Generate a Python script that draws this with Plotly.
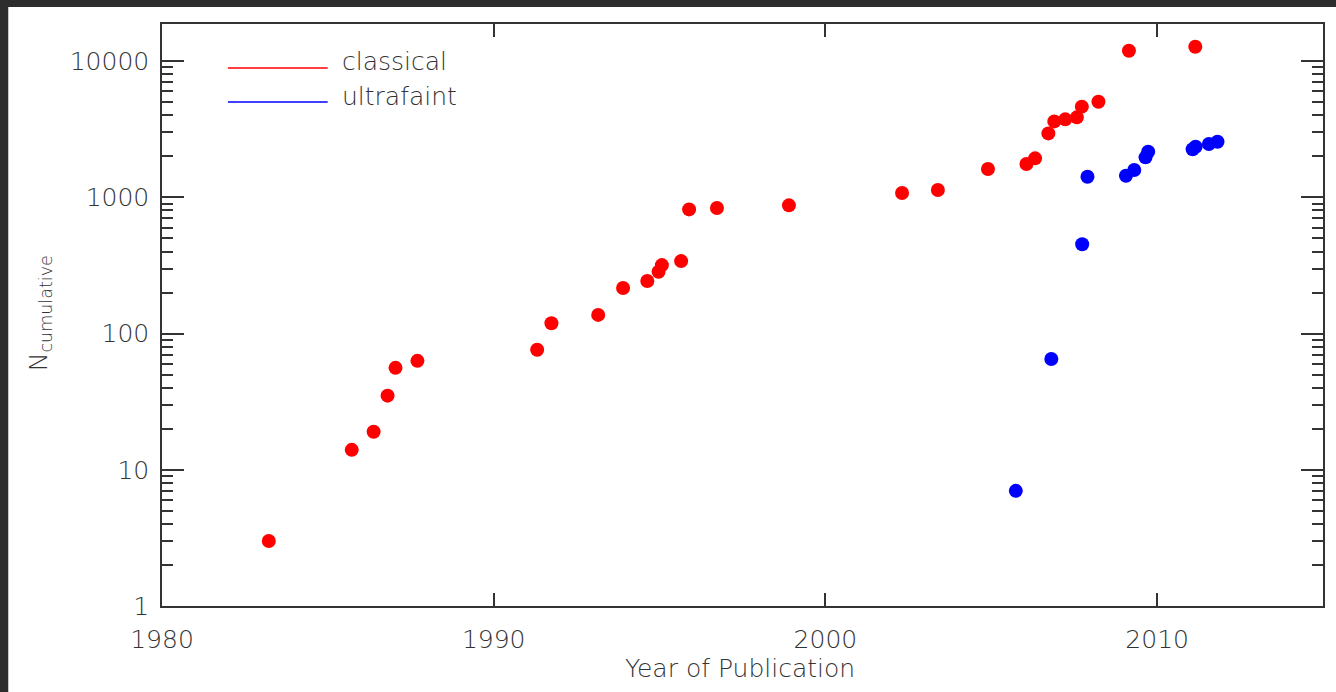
import plotly.graph_objects as go

# ---- data ----
classical_year = [1983.22, 1985.72, 1986.38, 1986.80, 1987.04, 1987.70, 1991.31, 1991.74,
                  1993.15, 1993.90, 1994.63, 1994.97, 1995.07, 1995.65, 1995.89, 1996.73,
                  1998.90, 2002.31, 2003.39, 2004.90, 2006.06, 2006.32, 2006.72, 2006.90,
                  2007.23, 2007.58, 2007.73, 2008.23, 2009.15, 2011.15]
classical_n = [3, 14, 19, 35, 56, 63, 76, 119,
               137, 216, 243, 284, 318, 340, 815, 834,
               873, 1075, 1130, 1612, 1754, 1932, 2945, 3607,
               3733, 3863, 4627, 5025, 11900, 12740]

ultrafaint_year = [2005.74, 2006.81, 2007.74, 2007.90, 2009.06, 2009.31, 2009.65, 2009.73,
                   2011.07, 2011.16, 2011.56, 2011.82]
ultrafaint_n = [7, 65, 452, 1416, 1439, 1585, 1964, 2160,
                2250, 2350, 2460, 2557]

x_ticks = [1980, 1990, 2000, 2010]
y_ticks = [1, 10, 100, 1000, 10000]
y_ticktext = ["1", "10", "100", "1000", "10000"]

series_names = ["classical", "ultrafaint"]
series_colors = ["#ff0000", "#0000ff"]

FONT = "DejaVu Sans"
TXT = "#333333"
AX = "#333333"
FS = 25
FW = 300

fig = go.Figure()
fig.add_trace(go.Scatter(x=classical_year, y=classical_n, mode="markers",
                         name=series_names[0],
                         marker=dict(color=series_colors[0], size=14, line=dict(width=0))))
fig.add_trace(go.Scatter(x=ultrafaint_year, y=ultrafaint_n, mode="markers",
                         name=series_names[1],
                         marker=dict(color=series_colors[1], size=14, line=dict(width=0))))

L, R, T, B = 162, 11, 24, 86
W, H = 1336, 692
pw, ph = W - L - R, H - T - B


def px(x):
    return (x - L) / pw


def py(y):
    return (H - B - y) / ph


shapes = []
# dark frame strips (left and top)
shapes.append(dict(type="rect", xref="paper", yref="paper", x0=px(-5), x1=px(8),
                   y0=py(700), y1=py(-5), fillcolor="#2d2d2d", line=dict(width=0), layer="above"))
shapes.append(dict(type="rect", xref="paper", yref="paper", x0=px(-5), x1=px(1340),
                   y0=py(7), y1=py(-5), fillcolor="#2d2d2d", line=dict(width=0), layer="above"))
# custom legend lines
legend_y = [68, 102]
for name, col, ly in zip(series_names, series_colors, legend_y):
    shapes.append(dict(type="line", xref="paper", yref="paper", x0=px(228), x1=px(328),
                       y0=py(ly), y1=py(ly), line=dict(color=col, width=1.5)))

annotations = []
legend_text_y = [61, 96]
for name, ty in zip(series_names, legend_text_y):
    annotations.append(dict(xref="paper", yref="paper", x=px(340), y=py(ty), text=name,
                            showarrow=False, xanchor="left", yanchor="middle",
                            font=dict(family=FONT, size=FS, color=TXT, weight=FW)))
# axis titles
annotations.append(dict(xref="paper", yref="paper", x=px(40), y=py(313),
                        text="N<sub>cumulative</sub>", textangle=-90, showarrow=False,
                        xanchor="center", yanchor="middle",
                        font=dict(family=FONT, size=25, color=TXT, weight=FW)))
annotations.append(dict(xref="paper", yref="paper", x=px(741), y=py(668),
                        text="Year of Publication", showarrow=False,
                        xanchor="center", yanchor="middle",
                        font=dict(family=FONT, size=FS, color=TXT, weight=FW)))

fig.update_layout(
    width=W, height=H,
    margin=dict(l=L, r=R, t=T, b=B),
    paper_bgcolor="white", plot_bgcolor="white",
    showlegend=False,
    shapes=shapes, annotations=annotations,
    font=dict(family=FONT, size=FS, color=TXT, weight=FW),
    xaxis=dict(range=[1980, 2015], tickvals=x_ticks, ticktext=[str(v) for v in x_ticks],
               ticks="inside", ticklen=13, tickwidth=1.5, tickcolor=AX,
               showline=True, linecolor=AX, linewidth=1.5, mirror="allticks",
               showgrid=False, zeroline=False, ticklabelstandoff=10,
               tickfont=dict(family=FONT, size=FS, color=TXT, weight=FW)),
    yaxis=dict(type="log", range=[0, 4.272], tickvals=y_ticks, ticktext=y_ticktext,
               ticks="inside", ticklen=22, tickwidth=1.5, tickcolor=AX,
               minor=dict(ticks="inside", ticklen=11, tickwidth=1.5, tickcolor=AX, dtick="D1"),
               showline=True, linecolor=AX, linewidth=1.5, mirror="allticks",
               showgrid=False, zeroline=False, ticklabelstandoff=6,
               tickfont=dict(family=FONT, size=FS, color=TXT, weight=FW)),
)

fig.write_html("out.html")
